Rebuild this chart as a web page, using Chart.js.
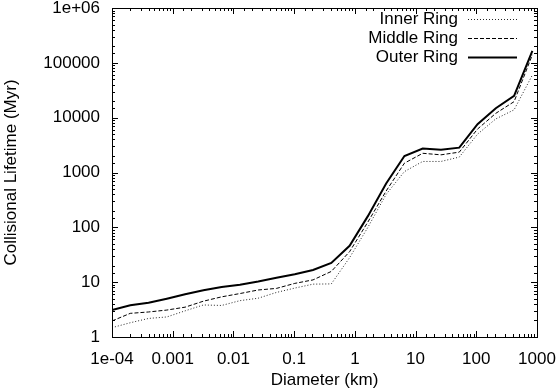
<!DOCTYPE html>
<html lang="en">
<head>
<meta charset="UTF-8">
<title>Collisional Lifetime vs Diameter</title>
<script src="https://cdn.jsdelivr.net/npm/chart.js@4/dist/chart.umd.min.js"></script>
<style>
    html, body { margin: 0; padding: 0; background: #fff; }
    #wrap { width: 559px; height: 392px; }
</style>
</head>
<body>
<div id="wrap"><canvas id="lifetimeChart" width="559" height="392"></canvas></div>
<script>
// diameters in km (x axis)
const diameters = [0.0001, 0.0002, 0.0004, 0.0008, 0.0016, 0.0032, 0.0064, 0.0128,
    0.0256, 0.0512, 0.1024, 0.2048, 0.4096, 0.8192, 1.6384, 3.2768, 6.5536, 13.107,
    26.214, 52.429, 104.86, 209.72, 419.43, 838.86];

// collisional lifetime in Myr
const innerRing = [1.48, 1.82, 2.18, 2.32, 3.0, 3.84, 3.76, 4.6, 5.1, 6.5, 7.8, 9.2,
    9.3, 28, 100, 400, 1040, 1590, 1590, 1910, 5000, 9500, 13900, 60000];
const middleRing = [1.96, 2.7, 2.86, 3.1, 3.5, 4.5, 5.4, 6.2, 7.2, 7.7, 9.5, 11,
    15.7, 36, 125, 460, 1480, 2240, 2100, 2350, 6200, 12000, 19600, 140000];
const outerRing = [3.1, 3.8, 4.2, 5.0, 6.0, 7.1, 8.2, 9.0, 10.3, 12.0, 13.9, 16.7,
    22.4, 46, 160, 630, 2000, 2740, 2600, 2840, 7600, 14900, 25000, 165000];

// labels for the decades
const xDecades = [-4, -3, -2, -1, 0, 1, 2, 3];
const xTickLabels = ['1e-04', '0.001', '0.01', '0.1', '1', '10', '100', '1000'];
const yDecades = [0, 1, 2, 3, 4, 5, 6];
const yTickLabels = ['1', '10', '100', '1000', '10000', '100000', '1e+06'];

const FONT = 'Liberation Sans, Arial, Helvetica, sans-serif';
Chart.defaults.font.family = FONT;
Chart.defaults.font.size = 17;
Chart.defaults.color = '#000';

function decadeOf(v) {
    const e = Math.log10(v);
    const r = Math.round(e);
    return Math.abs(e - r) < 1e-6 ? r : null;
}

function toPoints(ys) {
    return ys.map((y, i) => ({ x: diameters[i], y: y }));
}

// frame, inward ticks on all four sides, and gnuplot style key
const framePlugin = {
    id: 'frame',
    afterDraw(chart) {
        const ctx = chart.ctx;
        const a = chart.chartArea;
        const xs = chart.scales.x, ys = chart.scales.y;
        ctx.save();
        ctx.strokeStyle = '#000';
        ctx.lineWidth = 1;
        ctx.beginPath();
        xs.ticks.forEach(t => {
            const px = Math.round(xs.getPixelForValue(t.value)) + 0.5;
            const len = decadeOf(t.value) !== null ? 6 : 3;
            ctx.moveTo(px, a.bottom); ctx.lineTo(px, a.bottom - len);
            ctx.moveTo(px, a.top); ctx.lineTo(px, a.top + len);
        });
        ys.ticks.forEach(t => {
            const py = Math.round(ys.getPixelForValue(t.value)) + 0.5;
            const len = decadeOf(t.value) !== null ? 6 : 3;
            ctx.moveTo(a.left, py); ctx.lineTo(a.left + len, py);
            ctx.moveTo(a.right, py); ctx.lineTo(a.right - len, py);
        });
        ctx.stroke();
        ctx.strokeRect(Math.round(a.left) + 0.5, Math.round(a.top) + 0.5,
            Math.round(a.right - a.left), Math.round(a.bottom - a.top));

        // key
        ctx.font = '17px ' + FONT;
        ctx.textAlign = 'right';
        ctx.textBaseline = 'middle';
        chart.data.datasets.forEach((ds, i) => {
            const y = 19 + i * 19;
            ctx.fillStyle = '#000';
            ctx.fillText(ds.label, 458, y);
            ctx.beginPath();
            ctx.strokeStyle = ds.borderColor;
            ctx.lineWidth = ds.borderWidth;
            ctx.setLineDash(ds.borderDash || []);
            ctx.moveTo(468, y + 0.5);
            ctx.lineTo(517, y + 0.5);
            ctx.stroke();
            ctx.setLineDash([]);
        });
        ctx.restore();
    }
};

new Chart(document.getElementById('lifetimeChart'), {
    type: 'line',
    data: {
        datasets: [
            {
                label: 'Inner Ring',
                data: toPoints(innerRing),
                borderColor: 'rgba(0,0,0,0.85)',
                borderWidth: 1,
                borderDash: [1, 2]
            },
            {
                label: 'Middle Ring',
                data: toPoints(middleRing),
                borderColor: '#000',
                borderWidth: 1,
                borderDash: [4, 2]
            },
            {
                label: 'Outer Ring',
                data: toPoints(outerRing),
                borderColor: '#000',
                borderWidth: 2
            }
        ]
    },
    options: {
        responsive: false,
        animation: false,
        devicePixelRatio: 1,
        layout: { padding: { left: 0, right: 0, top: 8, bottom: 0 } },
        elements: { point: { radius: 0 }, line: { tension: 0 } },
        plugins: { legend: { display: false }, tooltip: { enabled: false } },
        scales: {
            x: {
                type: 'logarithmic',
                min: 1e-4,
                max: 1000,
                grid: { display: false, drawTicks: false },
                border: { display: false },
                ticks: {
                    autoSkip: false,
                    maxRotation: 0,
                    padding: 12,
                    callback: v => {
                        const d = decadeOf(v);
                        const i = xDecades.indexOf(d);
                        return i >= 0 ? xTickLabels[i] : '';
                    }
                },
                title: { display: true, text: 'Diameter (km)', padding: { top: 0, bottom: 1 } },
                afterFit: s => { s.height = 55; s.paddingLeft = 0; s.paddingRight = 22; }
            },
            y: {
                type: 'logarithmic',
                min: 1,
                max: 1e6,
                grid: { display: false, drawTicks: false },
                border: { display: false },
                ticks: {
                    autoSkip: false,
                    padding: 12,
                    callback: v => {
                        const d = decadeOf(v);
                        const i = yDecades.indexOf(d);
                        return i >= 0 ? yTickLabels[i] : '';
                    }
                },
                title: { display: true, text: 'Collisional Lifetime (Myr)', padding: { top: 1, bottom: 0 } },
                afterFit: s => { s.width = 112; s.paddingTop = 0; s.paddingBottom = 0; }
            }
        }
    },
    plugins: [framePlugin]
});
</script>
</body>
</html>
